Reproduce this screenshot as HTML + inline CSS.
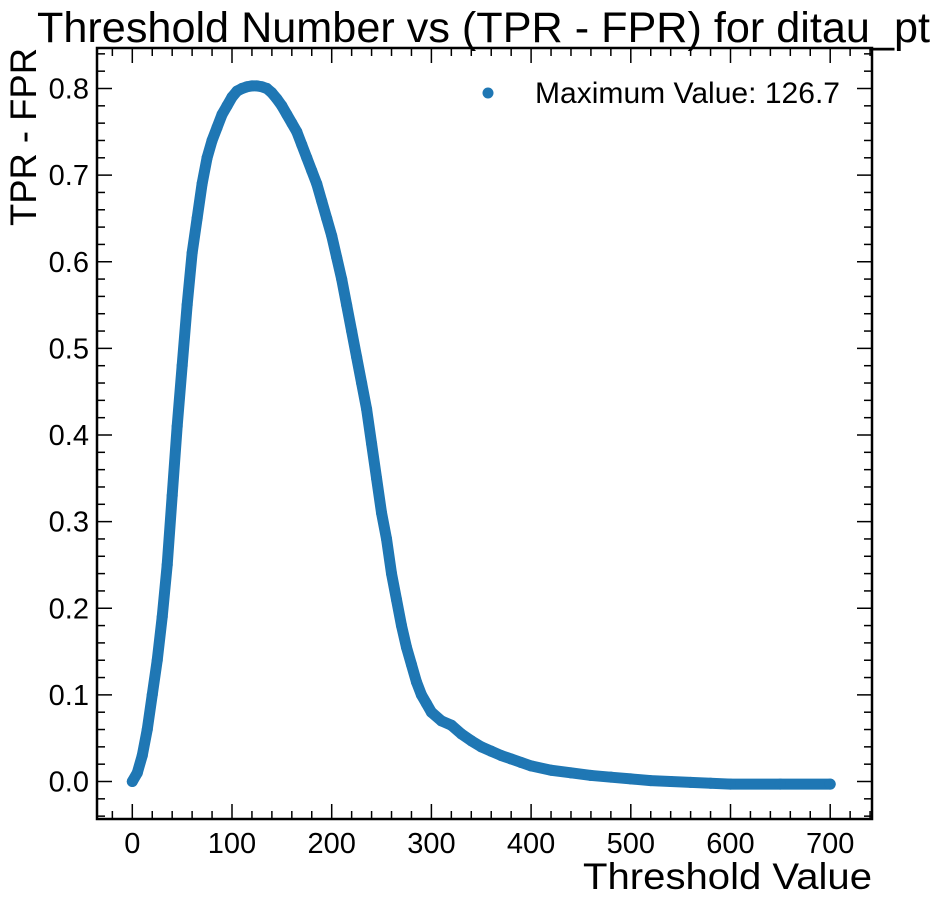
<!DOCTYPE html>
<html><head><meta charset="utf-8"><style>
html,body{margin:0;padding:0;background:#fff;overflow:hidden}
svg{display:block;font-family:"Liberation Sans",Arial,sans-serif}
</style></head><body>
<svg id="chart" width="942" height="906">
<text x="37" y="42" font-size="43" textLength="893" lengthAdjust="spacingAndGlyphs">Threshold Number vs (TPR - FPR) for ditau_pt</text>
<text x="872" y="889" font-size="37" text-anchor="end" textLength="289" lengthAdjust="spacingAndGlyphs">Threshold Value</text>
<text transform="translate(36,48) rotate(-90)" font-size="37" text-anchor="end" textLength="178" lengthAdjust="spacingAndGlyphs">TPR - FPR</text>
<g id="marks"></g>
<g id="axes"></g>
<rect x="97" y="48" width="775" height="771" fill="none" stroke="#000" stroke-width="2.5"/>
<g>
<circle cx="488" cy="93" r="5.5" fill="#1f77b4"/>
<text x="535" y="103" font-size="30" textLength="305" lengthAdjust="spacingAndGlyphs">Maximum Value: 126.7</text>
</g>
</svg>
<script>
const thresholds=[0,5,10,15,20,25,30,35,40,45,50,55,60,65,70,75,80,85,90,95,100,105,110,115,120,125,130,135,140,145,150,155,160,165,170,175,180,185,190,195,200,205,210,215,220,225,230,235,240,245,250,255,260,265,270,275,280,285,290,295,300,310,320,330,340,350,360,370,380,390,400,420,440,460,480,500,520,540,560,580,600,650,700];
const tprMinusFpr=[0.0,0.01,0.03,0.06,0.10,0.14,0.19,0.25,0.33,0.41,0.48,0.55,0.61,0.65,0.69,0.72,0.74,0.755,0.77,0.78,0.79,0.797,0.80,0.802,0.803,0.803,0.802,0.80,0.795,0.788,0.78,0.77,0.76,0.75,0.735,0.72,0.705,0.69,0.67,0.65,0.63,0.605,0.58,0.55,0.52,0.49,0.46,0.43,0.39,0.35,0.31,0.28,0.24,0.21,0.18,0.155,0.135,0.115,0.10,0.09,0.08,0.07,0.065,0.055,0.047,0.04,0.035,0.03,0.026,0.022,0.018,0.013,0.01,0.007,0.005,0.003,0.001,0.0,-0.001,-0.002,-0.003,-0.003,-0.003];
const xTicks=[0,100,200,300,400,500,600,700];
const yTicks=[0.0,0.1,0.2,0.3,0.4,0.5,0.6,0.7,0.8];
const yTickLabels=["0.0","0.1","0.2","0.3","0.4","0.5","0.6","0.7","0.8"];
const L=97,R=872,T=48,B=819;
const sx=v=>132.3+v*0.997;
const sy=v=>781.5-v*866.25;
const NS="http://www.w3.org/2000/svg";
const marks=document.getElementById('marks'),axes=document.getElementById('axes');
function mk(tag,attrs,parent){const e=document.createElementNS(NS,tag);for(const k in attrs)e.setAttribute(k,attrs[k]);parent.appendChild(e);return e;}
let d=thresholds.map((t,i)=>(i?'L':'M')+sx(t)+','+sy(tprMinusFpr[i])).join('');
const line=mk('path',{d:d,fill:'none',stroke:'#1f77b4','stroke-width':11,'stroke-linejoin':'round','stroke-linecap':'round'},marks);


thresholds.forEach((t,i)=>{
  const c=mk('circle',{cx:sx(t),cy:sy(tprMinusFpr[i]),r:5.5,fill:'#1f77b4'},marks);
  
  
});
for(let v=-20;v<=740;v+=20){const x=sx(v);if(x<L+1||x>R-1)continue;const maj=v%100===0;const len=maj?15:8;
  const a=mk('line',{x1:x,x2:x,y1:B,y2:B-len,stroke:'#000','stroke-width':1.5},axes);
  const b=mk('line',{x1:x,x2:x,y1:T,y2:T+len,stroke:'#000','stroke-width':1.5},axes);}
xTicks.forEach(v=>{const t=mk('text',{x:sx(v),y:853,'font-size':29,'text-anchor':'middle'},axes);t.textContent=v;
  });
for(let k=-2;k<=42;k++){const v=k*0.02;const y=sy(v);if(y<T+1||y>B-1)continue;const maj=k%5===0;const len=maj?15:8;
  const a=mk('line',{x1:L,x2:L+len,y1:y,y2:y,stroke:'#000','stroke-width':1.5},axes);
  const b=mk('line',{x1:R,x2:R-len,y1:y,y2:y,stroke:'#000','stroke-width':1.5},axes);}
yTicks.forEach((v,i)=>{const t=mk('text',{x:89,y:sy(v)+10,'font-size':29,'text-anchor':'end'},axes);t.textContent=yTickLabels[i];
  });
</script>
</body></html>
